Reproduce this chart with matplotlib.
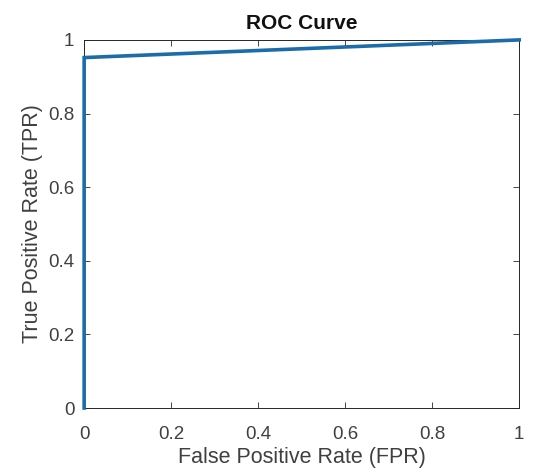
import matplotlib.pyplot as plt

plt.rcParams.update({
    "font.family": ["Liberation Sans", "DejaVu Sans"],
    "font.size": 13,
})

fpr = [0.0, 0.0, 1.0]
tpr = [0.0, 0.952, 1.0]
xticks = [0, 0.2, 0.4, 0.6, 0.8, 1]
yticks = [0, 0.2, 0.4, 0.6, 0.8, 1]
tick_labels = ["0", "0.2", "0.4", "0.6", "0.8", "1"]

LINE = "#1b6ca8"
AXC = "#262626"

fig = plt.figure(figsize=(5.5, 4.75), dpi=100)
ax = fig.add_axes([0.153, 0.141, 0.791, 0.775])
ax.plot(fpr, tpr, color=LINE, lw=2.6, solid_joinstyle="miter", clip_on=False, zorder=3)
ax.set_xlim(0, 1)
ax.set_ylim(0, 1)
ax.set_xticks(xticks)
ax.set_xticklabels(tick_labels)
ax.set_yticks(yticks)
ax.set_yticklabels(tick_labels)
ax.tick_params(direction="in", top=True, right=True, length=4, width=0.6,
               colors=AXC, labelsize=13.5, labelcolor="#404040")
ax.tick_params(axis="x", pad=13)
ax.tick_params(axis="y", pad=7)
for s in ax.spines.values():
    s.set_color(AXC)
    s.set_linewidth(0.7)
ax.set_xlabel("False Positive Rate (FPR)", fontsize=15.5, color="#404040", labelpad=3)
ax.set_ylabel("True Positive Rate (TPR)", fontsize=15.5, color="#404040", labelpad=4)
ax.set_title("ROC Curve", fontsize=15, fontweight="bold", color="#111111", pad=8)

fig.savefig("out.png", dpi=100, facecolor="white")
